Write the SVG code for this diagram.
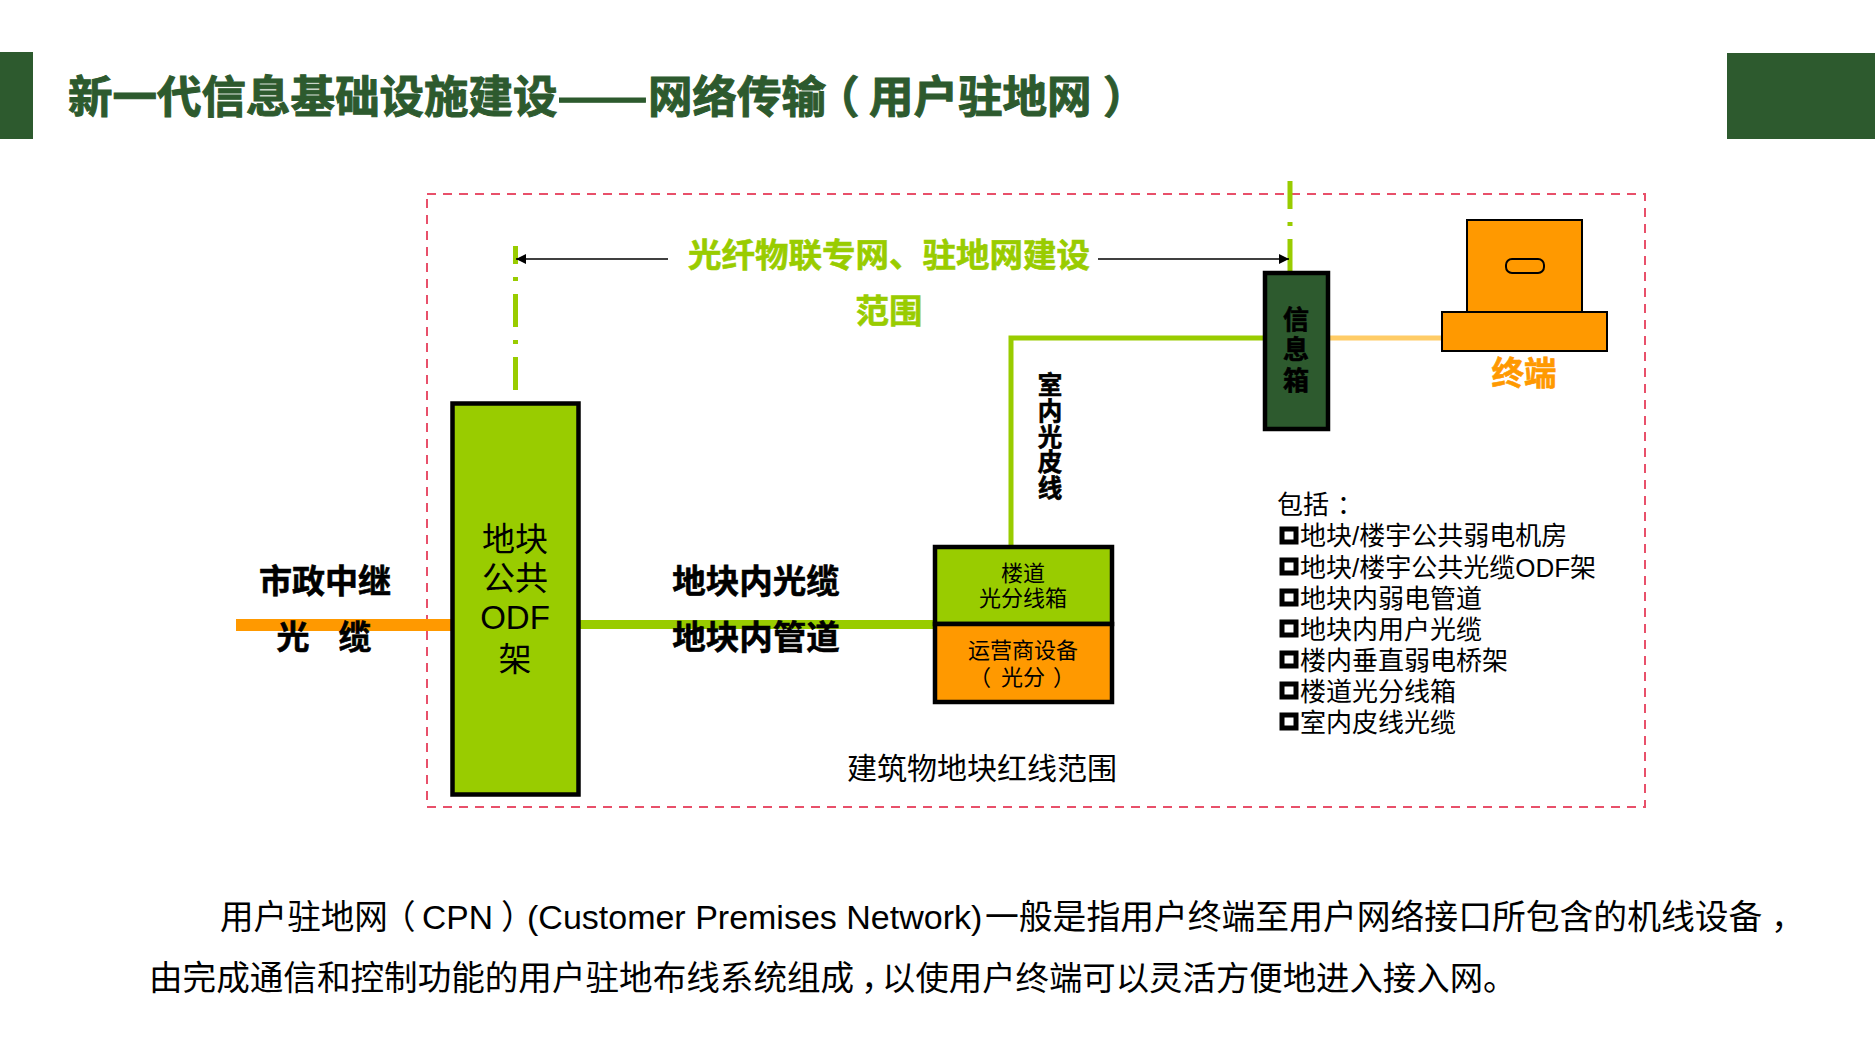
<svg xmlns="http://www.w3.org/2000/svg" width="1875" height="1055" viewBox="0 0 1875 1055">
<style>
text{font-family:"Liberation Sans","Noto Sans CJK SC",sans-serif;fill:#000}
.c{text-anchor:middle}
.b{font-family:"Noto Sans CJK SC",sans-serif;font-weight:700;stroke:#000;stroke-width:.6}
text.t{fill:#2d5a2e;stroke:#2d5a2e;stroke-width:1}
text.lg{fill:#99cc00;stroke:#99cc00}
text.tm{fill:#ff9900;stroke:#ff9900}
.g{fill:#99cc00}
.o{fill:#ff9900}
.box{stroke:#000;stroke-width:4.5}
.thin{stroke:#000;stroke-width:2}
.vl{fill:none;stroke:#99cc00;stroke-width:5;stroke-dasharray:33 13 4 13}
</style>
<defs><marker id="ah" markerWidth="12" markerHeight="12" refX="10" refY="5" orient="auto" markerUnits="userSpaceOnUse"><path d="M0 0L10 5L0 10Z" fill="#000"/></marker></defs>
<rect width="1875" height="1055" fill="#fff"/>
<g id="header">
<rect x="0" y="52" width="33" height="87" fill="#2d5a2e"/>
<rect x="1727" y="53" width="148" height="86" fill="#2d5a2e"/>
<g font-size="44.5">
<text x="68" y="113" class="b t">新一代信息基础设施建设</text>
<text x="557" y="113" class="b t" textLength="91" lengthAdjust="spacingAndGlyphs">——</text>
<text x="648" y="113" class="b t">网络传输</text>
<text x="815" y="113" class="b t">（</text>
<text x="869" y="113" class="b t">用户驻地网</text>
<text x="1103" y="113" class="b t">）</text>
</g>
</g>
<rect id="boundary" x="427" y="194" width="1218" height="613" fill="none" stroke="#e8506a" stroke-width="2" stroke-dasharray="9 7"/>
<g id="connectors">
<rect x="236" y="619" width="217" height="12" fill="#ff9900"/>
<rect x="578" y="620" width="356" height="9" fill="#99cc00"/>
<path d="M1011 546V338H1264" fill="none" stroke="#99cc00" stroke-width="5"/>
<path d="M1328 338H1443" fill="none" stroke="#ffcc66" stroke-width="5"/>
<path class="vl" d="M515.5 246V390" stroke-dashoffset="15"/>
<path class="vl" d="M1290 181V272" stroke-dashoffset="5"/>
<path d="M668 259H516" stroke="#000" stroke-width="1.5" marker-end="url(#ah)"/>
<path d="M1098 259H1289" stroke="#000" stroke-width="1.5" marker-end="url(#ah)"/>
</g>
<g id="odf">
<rect x="452.5" y="403.5" width="126" height="391" class="g box"/>
<g class="c" font-size="33"><text x="515" y="551">地块</text><text x="515" y="590">公共</text><text x="515" y="629">ODF</text><text x="515" y="671">架</text></g>
</g>
<g id="floor-box">
<rect x="935" y="547" width="177" height="77" class="g box"/>
<g class="c" font-size="22"><text x="1023" y="581">楼道</text><text x="1023" y="606">光分线箱</text></g>
</g>
<g id="carrier">
<rect x="935" y="624" width="177" height="78" class="o box"/>
<g font-size="22"><text x="1023" y="658" class="c">运营商设备</text><text x="969" y="685">（</text><text x="1023" y="685" class="c">光分</text><text x="1053" y="685">）</text></g>
</g>
<g id="info-box">
<rect x="1265" y="273" width="63" height="156" fill="#2d5a2e" class="box"/>
<g class="c" font-size="26"><text x="1296" y="329" class="b">信</text><text x="1296" y="359" class="b">息</text><text x="1296" y="390" class="b">箱</text></g>
</g>
<g id="terminal">
<rect x="1467" y="220" width="115" height="92" class="o thin"/>
<rect x="1442" y="312" width="165" height="39" class="o thin"/>
<rect x="1506" y="259" width="38" height="14" rx="6" class="o thin"/>
<text x="1524" y="385" class="c b tm" font-size="32.5">终端</text>
</g>
<g id="labels">
<g class="c" font-size="33"><text x="325" y="593" class="b">市政中继</text><text x="293" y="649" class="b">光</text><text x="355" y="649" class="b">缆</text></g>
<g class="c" font-size="33.5"><text x="756" y="593" class="b">地块内光缆</text><text x="756" y="649" class="b">地块内管道</text></g>
<g class="c" font-size="33.5"><text x="889" y="267" class="b lg">光纤物联专网、驻地网建设</text><text x="889" y="323" class="b lg">范围</text></g>
<text class="c b" font-size="24.5" x="1050" y="394">室<tspan x="1050" y="420">内</tspan><tspan x="1050" y="446">光</tspan><tspan x="1050" y="471">皮</tspan><tspan x="1050" y="497">线</tspan></text>
<text x="982" y="779" class="c" font-size="30">建筑物地块红线范围</text>
</g>
<g id="list" font-size="26">
<text x="1277" y="514">包括</text><text x="1337" y="514">：</text>
<g fill="none" stroke="#000" stroke-width="5"><rect x="1282" y="529" width="14" height="13"/><rect x="1282" y="560" width="14" height="13"/><rect x="1282" y="591" width="14" height="13"/><rect x="1282" y="622" width="14" height="13"/><rect x="1282" y="653" width="14" height="13"/><rect x="1282" y="684" width="14" height="13"/><rect x="1282" y="715" width="14" height="13"/></g>
<text x="1300" y="545">地块/楼宇公共弱电机房</text>
<text x="1300" y="577">地块/楼宇公共光缆ODF架</text>
<text x="1300" y="608">地块内弱电管道</text>
<text x="1300" y="639">地块内用户光缆</text>
<text x="1300" y="670">楼内垂直弱电桥架</text>
<text x="1300" y="701">楼道光分线箱</text>
<text x="1300" y="732">室内皮线光缆</text>
</g>
<g id="description" font-size="33.6">
<text x="220" y="929">用户驻地网<tspan x="382">（</tspan><tspan x="422">CPN</tspan><tspan x="501">）</tspan><tspan x="527" font-size="34">(Customer Premises Network)</tspan><tspan x="985" font-size="33.8">一般是指用户终端至用户网络接口所包含的机线设备</tspan><tspan x="1771">，</tspan></text>
<text x="149" y="990">由完成通信和控制功能的用户驻地布线系统组成<tspan x="861">，</tspan><tspan x="882" font-size="33.4">以使用户终端可以灵活方便地进入接入网。</tspan></text>
</g>
</svg>
